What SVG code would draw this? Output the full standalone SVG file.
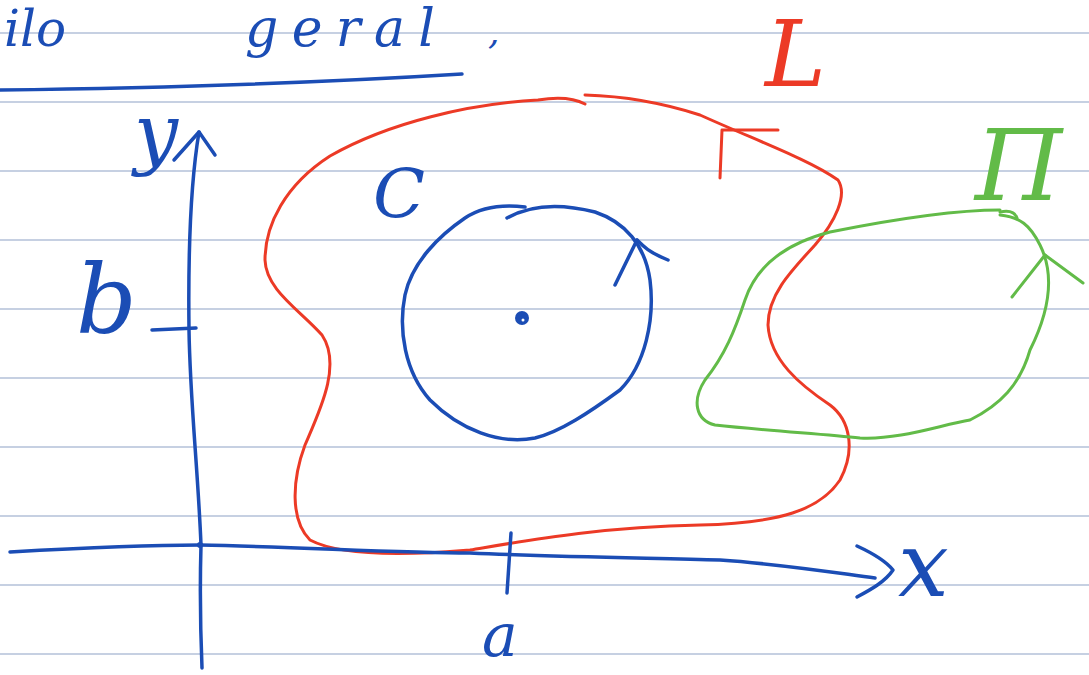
<svg xmlns="http://www.w3.org/2000/svg" width="1089" height="675" viewBox="0 0 1089 675">
<style>
.rule{stroke:#b4c1d9;stroke-width:1.5;fill:none}
.b{stroke:#1b4db5;stroke-width:3.5;fill:none;stroke-linecap:round;stroke-linejoin:round}
.r{stroke:#ec3a26;stroke-width:3;fill:none;stroke-linecap:round;stroke-linejoin:round}
.g{stroke:#62bb48;stroke-width:3;fill:none;stroke-linecap:round;stroke-linejoin:round}
.t{font-family:"DejaVu Serif","Liberation Serif",serif;font-style:italic}
.tb{fill:#1b4db5}.tr{fill:#ec3a26}.tg{fill:#62bb48}
</style>
<rect width="1089" height="675" fill="#ffffff"/>
<g id="rules">
<path class="rule" d="M0 33H1089M0 102H1089M0 171H1089M0 240H1089M0 309H1089M0 378H1089M0 447H1089M0 516H1089M0 585H1089M0 654H1089"/>
</g>
<g id="header">
<text class="t tb" x="4" y="46" font-size="50">ilo</text>
<text class="t tb" x="245" y="46" font-size="52" textLength="190" lengthAdjust="spacing">geral</text>
<text class="t tb" x="488" y="44" font-size="36">,</text>
<path class="b" d="M0 90 C150 88 300 84 462 74"/>
</g>
<g id="curve-L">
<path class="r" d="M585 104 C570 96 550 98 538 100 C470 104 390 122 330 156 C285 185 265 225 265 260 C266 290 300 310 322 335 C342 365 320 410 305 445 C292 480 290 520 310 540 C340 556 400 556 470 550 C530 540 600 527 700 525 C780 523 820 510 840 480 C856 450 850 420 830 405 C800 385 770 360 768 325 C768 295 790 272 815 245 C835 222 848 195 838 180 C810 160 760 142 700 115 C660 102 620 96 585 95"/>
<path class="r" d="M722 130 L720 178 M722 130 L778 130"/>
</g>
<g id="curve-Gamma">
<path class="g" d="M1000 210 C950 210 880 222 830 232 C780 245 755 270 745 300 C735 330 725 355 705 380 C692 400 695 420 715 425 C760 430 820 434 860 438 C900 440 940 425 970 420 C1000 405 1020 385 1030 350 C1050 310 1055 275 1040 245 C1030 225 1020 217 1000 215"/>
<path class="g" d="M1000 212 C1010 210 1015 212 1017 218"/>
<path class="g" d="M1045 255 L1083 283"/>
<path class="g" d="M1012 297 L1045 255" stroke-width="5"/>
</g>
<g id="circle-C">
<path class="b" d="M507 218 C530 205 560 203 595 212 C625 222 645 245 650 280 C655 320 645 365 620 390 C590 412 560 432 535 438 C500 445 460 430 430 400 C405 372 398 330 405 295 C412 262 440 235 465 218 C480 208 500 204 525 207"/>
<path class="b" d="M615 285 L637 240" stroke-width="5"/>
<path class="b" d="M637 240 C642 245 648 252 668 260"/>
<circle cx="522" cy="318" r="7" fill="#1b4db5"/>
<circle cx="523" cy="320" r="1.5" fill="#ffffff"/>
</g>
<g id="axes">
<path class="b" d="M202 668 C200 620 200 580 201 545 C198 470 190 400 189 330 C188 250 191 180 199 132"/>
<path class="b" d="M174 160 L199 132 L215 155"/>
<path class="b" d="M10 552 C80 548 140 545 200 545 C300 547 400 553 470 553 C560 557 650 558 720 560 C780 564 830 572 875 578"/>
<path class="b" d="M857 546 C870 552 885 560 893 570 C885 582 870 590 857 597"/>
<path class="b" d="M152 330 L196 328"/>
<path class="b" d="M511 533 L507 593"/>
<circle cx="200" cy="545" r="3" fill="#1b4db5"/>
</g>
<g id="labels">
<text class="t tb" x="134" y="160" font-size="78">y</text>
<text class="t tb" x="76" y="333" font-size="95">b</text>
<text class="t tb" x="373" y="217" font-size="68">C</text>
<text class="t tb" x="482" y="656" font-size="60">a</text>
<text class="t tb" x="898" y="596" font-size="90">x</text>
<text class="t tr" x="765" y="86" font-size="92">L</text>
<text class="t tg" x="975" y="200" font-size="100">Π</text>
</g>
</svg>
